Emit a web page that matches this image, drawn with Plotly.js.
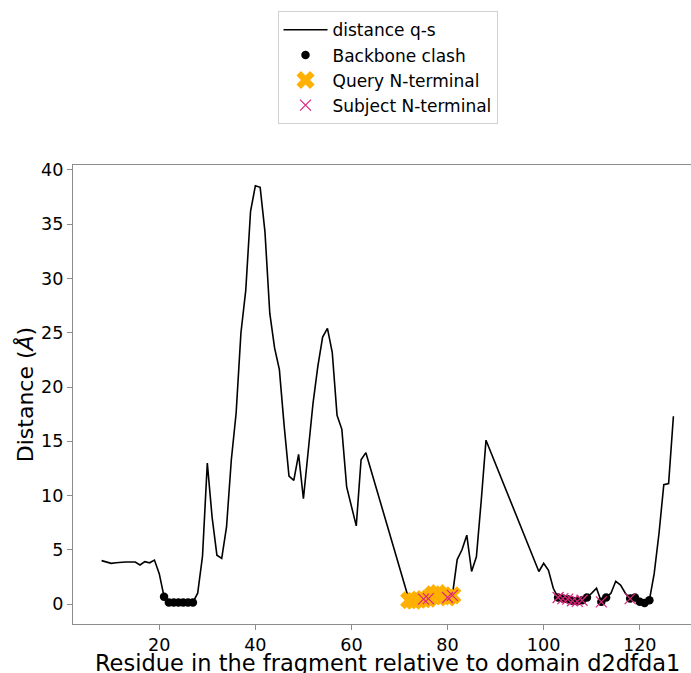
<!DOCTYPE html>
<html>
<head>
<meta charset="utf-8">
<script src="https://cdn.plot.ly/plotly-3.0.1.min.js"></script>
<style>
html, body { margin: 0; padding: 0; overflow: hidden; background: #fff; }
#chart { width: 705px; height: 673px; }
</style>
</head>
<body>
<div id="chart"></div>
<script>
// distance q-s line
const residues = [8,9,10,11,12,13,14,15,16,17,18,19,20,21,22,23,24,25,26,27,28,29,30,31,32,33,34,35,36,37,38,39,40,41,42,43,44,45,46,47,48,49,50,51,52,53,54,55,56,57,58,59,60,61,62,63,
  72,73,74,75,76,77,78,79,80,81,82,83,84,85,86,87,88,
  99,100,101,102,103,104,105,106,107,108,109,110,111,112,113,114,115,116,117,118,119,120,121,122,123,124,125,126,127];
const distances = [4.0,3.85,3.75,3.8,3.85,3.87,3.87,3.87,3.6,3.9,3.8,4.05,2.8,0.67,0.15,0.15,0.15,0.15,0.15,0.15,1.0,4.4,13.0,8.0,4.5,4.2,7.1,13.3,17.6,25.0,28.9,36.2,38.55,38.4,34.3,26.8,23.6,21.6,16.4,11.8,11.4,13.8,9.7,14.1,18.5,21.9,24.6,25.4,23.2,17.4,16.1,10.8,9.0,7.2,13.3,13.95,
  0.35,0.3,0.4,0.45,0.5,0.9,1.0,0.7,0.6,0.8,4.1,5.0,6.35,3.0,4.35,9.5,15.1,
  3.0,3.75,3.1,1.45,0.6,0.5,0.45,0.3,0.25,0.35,0.6,1.0,1.45,0.2,0.6,1.0,2.1,1.75,1.0,0.5,0.6,0.2,0.1,0.35,2.8,6.5,11.0,11.1,17.3];

// Backbone clash points
const clashResidues = [21,22,23,24,25,26,27,103,104,105,106,107,108,109,112,113,118,119,120,121,122];
const clashDistances = [0.67,0.15,0.15,0.15,0.15,0.15,0.15,0.6,0.5,0.45,0.3,0.25,0.35,0.6,0.2,0.6,0.5,0.6,0.2,0.1,0.35];

// Query N-terminal points
const queryResidues = [72,73,74,75,76,77,78,79,80,81];
const queryDistances = [0.35,0.3,0.4,0.45,0.5,0.9,1.0,0.7,0.6,0.8];

// Subject N-terminal points
const subjectResidues = [75,76,80,81,103,104,105,106,107,108,112,118];
const subjectDistances = [0.45,0.5,0.6,0.8,0.6,0.5,0.45,0.3,0.25,0.35,0.2,0.5];

const xTicks = [20,40,60,80,100,120];
const yTicks = [0,5,10,15,20,25,30,35,40];
const xTitle = 'Residue in the fragment relative to domain d2dfda1';
const yTitle = 'Distance (<i>Å</i>)';

const FONT = 'DejaVu Sans, sans-serif';
const AXIS_COL = '#8c8c8c';

const traces = [
  {
    x: residues, y: distances, type: 'scatter', mode: 'lines',
    name: 'distance q-s',
    line: { color: '#000000', width: 1.6 }
  },
  {
    x: clashResidues, y: clashDistances, type: 'scatter', mode: 'markers',
    name: 'Backbone clash',
    marker: { color: '#000000', size: 8.5, symbol: 'circle', line: { width: 0 } }
  },
  {
    x: queryResidues, y: queryDistances, type: 'scatter', mode: 'markers',
    name: 'Query N-terminal',
    marker: { color: '#FFB000', size: 16, symbol: 'x', line: { width: 0 } }
  },
  {
    x: subjectResidues, y: subjectDistances, type: 'scatter', mode: 'markers',
    name: 'Subject N-terminal',
    marker: { color: '#DC267F', size: 11, symbol: 'x-thin-open', line: { color: '#DC267F', width: 1.2 } }
  }
];

const layout = {
  width: 705, height: 673,
  margin: { l: 73, r: 3, t: 165, b: 49 },
  paper_bgcolor: '#ffffff', plot_bgcolor: '#ffffff',
  font: { family: FONT, color: '#000000' },
  showlegend: true,
  legend: {
    x: 0.5, xanchor: 'center', y: 1.335, yanchor: 'top',
    itemwidth: 44,
    bgcolor: '#ffffff', bordercolor: '#d0d0d0', borderwidth: 1,
    font: { family: FONT, size: 17, color: '#000000' }
  },
  annotations: [
    {
      text: xTitle, xref: 'paper', yref: 'paper', x: 0.5, y: 0,
      xanchor: 'center', yanchor: 'middle', yshift: -39, showarrow: false,
      font: { family: FONT, size: 22.5, color: '#000000' }
    }
  ],
  xaxis: {
    range: [2.05, 132.95],
    tickvals: xTicks, ticktext: xTicks.map(String),
    showgrid: false, zeroline: false,
    showline: true, linecolor: AXIS_COL, linewidth: 1, mirror: true,
    ticks: 'outside', ticklen: 5, tickcolor: AXIS_COL, tickwidth: 1,
    tickfont: { family: FONT, size: 17.6, color: '#000000' },
    automargin: false
  },
  yaxis: {
    range: [-1.84, 40.46],
    tickvals: yTicks, ticktext: yTicks.map(String),
    showgrid: false, zeroline: false,
    showline: true, linecolor: AXIS_COL, linewidth: 1, mirror: true,
    ticks: 'outside', ticklen: 5, tickcolor: AXIS_COL, tickwidth: 1,
    tickfont: { family: FONT, size: 17.6, color: '#000000' },
    title: { text: yTitle, font: { family: FONT, size: 22, color: '#000000' }, standoff: 1 },
    automargin: false
  }
};

Plotly.newPlot('chart', traces, layout, { displayModeBar: false, staticPlot: true });
</script>
</body>
</html>
